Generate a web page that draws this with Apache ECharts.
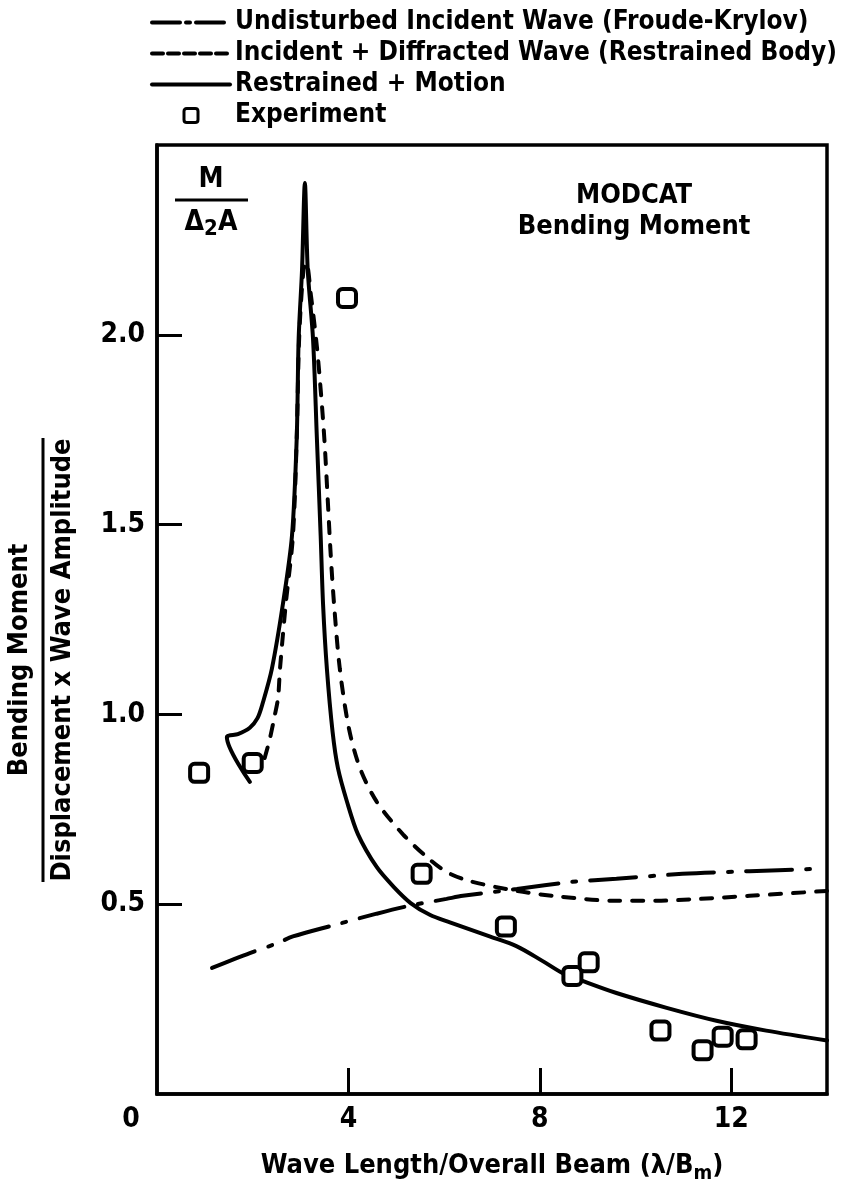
<!DOCTYPE html>
<html>
<head>
<meta charset="utf-8">
<script src="https://cdn.jsdelivr.net/npm/echarts@6/dist/echarts.min.js"></script>
<style>
  html, body { margin: 0; padding: 0; background: #fff; }
  #chart { width: 846px; height: 1189px; }
</style>
</head>
<body>
<div id="chart"></div>
<script>
// ---- data ----
const seriesNames = [
  'Undisturbed Incident Wave (Froude-Krylov)',
  'Incident + Diffracted Wave (Restrained Body)',
  'Restrained + Motion',
  'Experiment'
];
const froudeKrylov = [[1.15,0.332],[1.94,0.371],[2.51,0.397],[2.84,0.415],[3.67,0.444],[4.59,0.475],[5.28,0.496],[6.05,0.514],[6.39,0.522],[7.52,0.54],[8.68,0.559],[9.60,0.567],[10.98,0.58],[12.38,0.587],[13.78,0.593]];
const restrainedBody = [[2.25,0.885],[2.36,0.937],[2.46,0.997],[2.53,1.044],[2.57,1.12],[2.69,1.29],[2.84,1.47],[2.92,1.73],[2.97,1.99],[3.06,2.17],[3.12,2.19],[3.22,2.1],[3.34,1.97],[3.43,1.84],[3.50,1.72],[3.57,1.56],[3.63,1.42],[3.70,1.29],[3.82,1.12],[4.01,0.963],[4.24,0.859],[4.59,0.770],[5.14,0.684],[5.64,0.624],[6.05,0.585],[6.53,0.561],[7.52,0.535],[8.41,0.52],[9.60,0.509],[10.44,0.509],[11.34,0.514],[12.38,0.522],[14.0,0.535]];
const restrainedMotion = [[1.94,0.822],[1.46,0.94],[1.69,0.948],[1.94,0.965],[2.1,0.99],[2.21,1.03],[2.40,1.12],[2.63,1.29],[2.82,1.47],[2.92,1.73],[2.96,1.99],[3.03,2.17],[3.09,2.40],[3.15,2.17],[3.26,1.99],[3.34,1.73],[3.42,1.47],[3.47,1.29],[3.55,1.12],[3.67,0.953],[3.78,0.859],[3.97,0.77],[4.20,0.684],[4.59,0.598],[4.95,0.545],[5.3,0.503],[5.7,0.472],[6.12,0.452],[6.95,0.415],[7.52,0.389],[8.06,0.35],[8.48,0.318],[8.89,0.298],[9.60,0.266],[10.65,0.227],[11.69,0.193],[12.73,0.167],[14.0,0.141]];
const experiment = [[0.88,0.846],[2.0,0.872],[3.97,2.097],[5.53,0.58],[7.29,0.441],[8.68,0.311],[9.02,0.347],[10.52,0.167],[11.40,0.115],[11.82,0.151],[12.32,0.144]];
const xTickValues = [4, 8, 12];
const xLabelValues = [0, 4, 8, 12];
const yTickValues = [0.5, 1.0, 1.5, 2.0];
const yTickLabels = ['0.5', '1.0', '1.5', '2.0'];

// ---- chart ----
const FONT = '"Liberation Sans Narrow", "DejaVu Sans Condensed", "Liberation Sans", Arial, sans-serif';
const chart = echarts.init(document.getElementById('chart'), null, { renderer: 'canvas' });

const lineBase = { type: 'line', symbol: 'none', showSymbol: false, smooth: 0.3, z: 3 };
const styles = {
  dashDot: { color: '#000', width: 4, type: [46, 14, 4, 14], cap: 'round' },
  dashed: { color: '#000', width: 4, type: [11, 12], cap: 'round' },
  solid: { color: '#000', width: 4, type: 'solid', cap: 'round', join: 'round' }
};
const squareIcon = 'path://M2,0 H8 Q10,0 10,2 V8 Q10,10 8,10 H2 Q0,10 0,8 V2 Q0,0 2,0 Z';

const option = {
  backgroundColor: '#fff',
  animation: false,
  textStyle: { fontFamily: FONT, fontWeight: 'bold', color: '#000' },
  legend: {
    orient: 'vertical',
    left: 145,
    top: 4,
    itemWidth: 78,
    itemHeight: 14,
    itemGap: 4,
    selectedMode: false,
    symbolKeepAspect: true,
    textStyle: { fontFamily: FONT, fontWeight: 'bold', fontSize: 26, color: '#000', lineHeight: 27 },
    data: [
      { name: seriesNames[0], itemStyle: { opacity: 0 }, lineStyle: { color: '#000', width: 4, type: [28, 6, 4, 6], dashOffset: 0 } },
      { name: seriesNames[1], itemStyle: { opacity: 0 }, lineStyle: { color: '#000', width: 4, type: [11, 5] } },
      { name: seriesNames[2], itemStyle: { opacity: 0 }, lineStyle: { color: '#000', width: 4, type: 'solid' } },
      { name: seriesNames[3], icon: squareIcon, itemStyle: { color: '#fff', borderColor: '#000', borderWidth: 3 } }
    ]
  },
  grid: {
    left: 157, right: 19, top: 145, bottom: 87,
    show: true, borderColor: '#000', borderWidth: 3.5, backgroundColor: 'transparent'
  },
  xAxis: {
    type: 'value', min: 0, max: 14, interval: 4,
    splitLine: { show: false },
    axisLine: { show: true, lineStyle: { color: '#000', width: 3.5 } },
    axisTick: { show: true, inside: true, length: 26, customValues: xTickValues, lineStyle: { color: '#000', width: 3 } },
    axisLabel: {
      customValues: xLabelValues,
      margin: 12,
      fontFamily: FONT, fontWeight: 'bold', fontSize: 28, color: '#000',
      formatter: v => (v === 0 ? '{z|0}' : String(v)),
      rich: { z: { fontFamily: FONT, fontWeight: 'bold', fontSize: 28, color: '#000', padding: [0, 52, 0, 0] } }
    },
    name: 'Wave Length/Overall Beam (λ/B{s|m})',
    nameLocation: 'middle',
    nameGap: 54,
    nameTextStyle: {
      fontFamily: FONT, fontWeight: 'bold', fontSize: 27, color: '#000',
      rich: { s: { fontFamily: FONT, fontWeight: 'bold', fontSize: 20, color: '#000', verticalAlign: 'bottom', padding: [16, 0, 0, 0] } }
    }
  },
  yAxis: {
    type: 'value', min: 0, max: 2.5, interval: 0.5,
    splitLine: { show: false },
    axisLine: { show: true, lineStyle: { color: '#000', width: 3.5 } },
    axisTick: { show: true, inside: true, length: 25, customValues: yTickValues, lineStyle: { color: '#000', width: 3 } },
    axisLabel: {
      customValues: yTickValues,
      margin: 12,
      fontFamily: FONT, fontWeight: 'bold', fontSize: 28, color: '#000',
      formatter: v => yTickLabels[yTickValues.indexOf(v)] || ''
    }
  },
  graphic: [
    {
      type: 'group', x: 20, y: 660, rotation: Math.PI / 2,
      children: [
        { type: 'text', x: 0, y: 0, style: { text: 'Bending Moment', font: 'bold 27px ' + FONT, fill: '#000', align: 'center', verticalAlign: 'middle' } },
        { type: 'line', shape: { x1: -222, y1: 23, x2: 222, y2: 23 }, style: { stroke: '#000', lineWidth: 3 } },
        { type: 'text', x: 0, y: 43, style: { text: 'Displacement x Wave Amplitude', font: 'bold 27px ' + FONT, fill: '#000', align: 'center', verticalAlign: 'middle' } }
      ]
    },
    {
      type: 'group', x: 211, y: 200,
      children: [
        { type: 'text', x: 0, y: -20, style: { text: 'M', font: 'bold 28px ' + FONT, fill: '#000', align: 'center', verticalAlign: 'middle' } },
        { type: 'line', shape: { x1: -36, y1: 0, x2: 37, y2: 0 }, style: { stroke: '#000', lineWidth: 3 } },
        { type: 'text', x: 0, y: 23, style: { text: '{a|Δ}{b|2}{a|A}', font: 'bold 28px ' + FONT, fill: '#000', align: 'center', verticalAlign: 'middle',
          rich: { a: { font: 'bold 28px ' + FONT, fill: '#000' }, b: { font: 'bold 22px ' + FONT, fill: '#000', padding: [12, 0, 0, 0], verticalAlign: 'bottom' } } } }
      ]
    },
    {
      type: 'group', x: 634, y: 196,
      children: [
        { type: 'text', x: 0, y: 0, style: { text: 'MODCAT', font: 'bold 27px ' + FONT, fill: '#000', align: 'center', verticalAlign: 'middle' } },
        { type: 'text', x: 0, y: 31, style: { text: 'Bending Moment', font: 'bold 27px ' + FONT, fill: '#000', align: 'center', verticalAlign: 'middle' } }
      ]
    }
  ],
  series: [
    Object.assign({}, lineBase, { name: seriesNames[0], data: froudeKrylov, lineStyle: styles.dashDot, itemStyle: { color: '#000' } }),
    Object.assign({}, lineBase, { name: seriesNames[1], data: restrainedBody, lineStyle: styles.dashed, itemStyle: { color: '#000' } }),
    Object.assign({}, lineBase, { name: seriesNames[2], data: restrainedMotion, lineStyle: styles.solid, itemStyle: { color: '#000' } }),
    {
      type: 'scatter', name: seriesNames[3], data: experiment,
      symbol: 'roundRect', symbolSize: 18, z: 5,
      itemStyle: { color: '#fff', borderColor: '#000', borderWidth: 4, opacity: 1 }
    }
  ]
};
chart.setOption(option);
</script>
</body>
</html>
